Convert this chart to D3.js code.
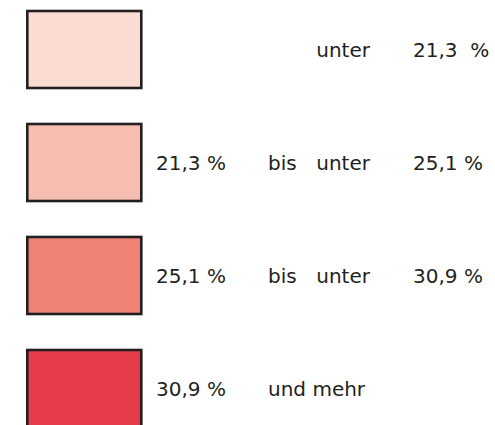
<!DOCTYPE html>
<html lang="de">
<head>
<meta charset="UTF-8">
<title>Legende</title>
<style>
    body { margin: 0; background: #fff; }
    svg text { font-family: "DejaVu Sans", "Noto Sans", sans-serif; font-size: 20px; fill: #231f20; white-space: pre; }
</style>
</head>
<body>
<div id="chart"></div>
<script src="https://d3js.org/d3.v7.min.js"></script>
<script>
    // legend classes
    const classColors = ["#fadcd2", "#f5beb1", "#ed8275", "#e63c4a"];
    const lowerBounds = [null, "21,3", "25,1", "30,9"];
    const upperBounds = ["21,3", "25,1", "30,9", null];

    const width = 495, height = 425;
    const rows = d3.range(classColors.length);

    const svg = d3.select("#chart").append("svg")
        .attr("width", width)
        .attr("height", height);

    // box positions
    const y = d3.scaleLinear().domain([0, 3]).range([11, 350]);
    const boxW = 114, boxH = 77;
    const boxX = 27.3;

    // text columns
    const x = d3.scaleOrdinal()
        .domain(["from", "mid", "midEnd", "to"])
        .range([156, 268, 370, 413]);

    svg.selectAll("rect.box")
        .data(rows)
        .join("rect")
        .attr("class", "box")
        .attr("x", boxX)
        .attr("y", i => y(i))
        .attr("width", boxW)
        .attr("height", boxH)
        .attr("fill", i => classColors[i])
        .attr("stroke", "#231f20")
        .attr("stroke-width", 2.6);

    rows.forEach(i => {
        const base = y(i) + boxH / 2 + 7;
        const lo = lowerBounds[i], hi = upperBounds[i];
        const g = svg.append("g");
        if (lo) {
            g.append("text").attr("x", x("from")).attr("y", base).text(lo + " %");
        }
        if (lo && hi) {
            g.append("text").attr("x", x("mid")).attr("y", base).text("bis");
        }
        if (hi) {
            g.append("text").attr("x", x("midEnd")).attr("y", base)
                .attr("text-anchor", "end").text("unter");
            g.append("text").attr("x", x("to")).attr("y", base)
                .text(lo ? hi + " %" : hi + "  %");
        } else {
            g.append("text").attr("x", x("mid")).attr("y", base).text("und mehr");
        }
    });
</script>
</body>
</html>
